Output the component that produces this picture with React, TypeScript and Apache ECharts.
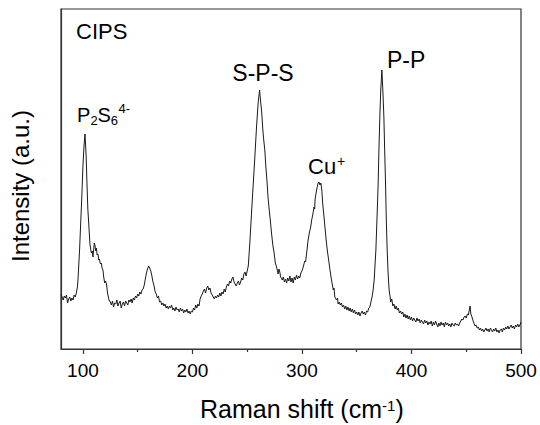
import React, { useEffect, useRef } from "react";
import * as echarts from "echarts";

// Raman shift (cm^-1) (10 per line, aligned with intensity)
const ramanShift = [
  80, 81, 82, 83, 84, 85, 86, 87, 88, 89,
  90, 91, 92, 93, 94, 95, 95.5, 97, 97.6, 99,
  100, 101, 101.9, 103, 103.7, 104.5, 105.5, 106.5, 107.7, 108.5,
  109.2, 110.4, 111, 111.7, 112.3, 113, 113.7, 114.5, 115, 116,
  116.8, 117.5, 118.3, 119, 119.9, 120.7, 121.5, 122.5, 123.8, 125,
  126, 127, 128, 129, 130, 131, 132, 133, 134, 135,
  136, 137, 138, 139, 140, 141, 142, 143, 144, 145,
  146, 147, 148, 149, 150, 151, 152, 153, 154, 155,
  156, 157, 158, 159, 160, 161, 162, 163, 164, 165,
  166, 167, 168, 169, 170, 171, 172, 173, 174, 175,
  176, 177, 178, 179, 180, 181, 182, 183, 184, 185,
  186, 187, 188, 189, 190, 191, 192, 193, 194, 195,
  196, 197, 198, 199, 200, 201, 202, 203, 204, 205,
  206, 207, 208, 209, 210, 211, 212, 213, 214, 215,
  216, 217, 218, 219, 220, 221, 222, 223, 224, 225,
  226, 227, 228, 229, 230, 231, 232, 233, 234, 235,
  236, 237, 238, 239, 240, 241, 242, 243, 244, 245,
  246, 247, 248, 249, 250, 251, 252.4, 254.5, 257, 258.5,
  260, 261.3, 262.4, 263.3, 264.3, 265.2, 266.1, 267, 268, 269,
  270.1, 271, 272.2, 273.4, 274.6, 275.7, 276.8, 277.5, 278.3, 279,
  279.8, 280.5, 281.3, 282, 283, 284, 285, 286, 287, 288,
  289, 290, 291, 292, 293, 294, 295, 296, 297, 298,
  299, 300, 301.2, 302.5, 303.3, 304.3, 305.5, 306.7, 308, 308.9,
  310, 311, 311.6, 312, 313.4, 314.5, 315.5, 316.5, 317.3, 318.2,
  318.9, 320, 321, 322, 323.1, 324.5, 325.6, 327, 328.6, 329.3,
  330, 331, 331.7, 332.5, 333, 334, 335, 336, 337, 338,
  339, 340, 341, 342, 343, 344, 345, 346, 347, 348,
  349, 350, 351, 352, 353, 354, 355, 356, 357, 358,
  359, 360, 361, 362, 363, 364, 365, 366, 367.5, 368.5,
  369.6, 370.3, 371.1, 372, 373, 374, 374.8, 375.5, 376.3, 377,
  377.8, 378.7, 379.6, 380.5, 381, 382, 383, 384, 385, 386,
  387, 388, 389, 390, 391, 392, 393, 394, 395, 396,
  397, 398, 399, 400, 401, 402, 403, 404, 405, 406,
  407, 408, 409, 410, 411, 412, 413, 414, 415, 416,
  417, 418, 419, 420, 421, 422, 423, 424, 425, 426,
  427, 428, 429, 430, 431, 432, 433, 434, 435, 436,
  437, 438, 439, 440, 441, 442, 443, 444, 445, 446,
  447, 448, 449, 450, 451, 452, 452.8, 453.5, 454.2, 455,
  456, 457, 458, 459, 460, 461, 462, 463, 464, 465,
  466, 467, 468, 469, 470, 471, 472, 473, 474, 475,
  476, 477, 478, 479, 480, 481, 482, 483, 484, 485,
  486, 487, 488, 489, 490, 491, 492, 493, 494, 495,
  496, 497, 498, 499, 500,
];

// Intensity (a.u.), same order as ramanShift
const intensity = [
  55, 52, 49, 53, 51, 54, 46, 50, 52, 48,
  51, 49, 54, 52, 56, 62, 69, 100, 116, 152,
  182, 203, 215, 192, 166, 140, 122, 104, 96, 98,
  92, 106, 104, 98, 101, 94, 95, 89, 90, 85,
  86, 81, 79, 72, 66, 68, 65, 56, 49, 47,
  44, 48, 42, 46, 45, 49, 43, 46, 48, 41,
  45, 47, 43, 48, 46, 44, 49, 47, 50, 46,
  51, 49, 53, 51, 55, 53, 57, 55, 59, 60,
  64, 70, 76, 80, 83, 81, 78, 73, 67, 63,
  57, 55, 51, 53, 47, 48, 44, 46, 43, 45,
  41, 43, 40, 43, 41, 44, 39, 41, 38, 42,
  39, 40, 37, 41, 38, 40, 36, 39, 37, 40,
  36, 38, 35, 38, 37, 41, 39, 44, 41, 45,
  43, 50, 53, 55, 58, 60, 56, 61, 63, 59,
  61, 56, 54, 52, 50, 53, 51, 54, 52, 56,
  53, 57, 55, 60, 57, 62, 65, 63, 68, 66,
  70, 72, 67, 65, 63, 66, 68, 64, 67, 71,
  69, 75, 77, 73, 78, 83, 106, 146, 192, 222,
  246, 259, 246, 236, 219, 208, 199, 183, 169, 152,
  139, 130, 116, 104, 96, 86, 82, 79, 75, 80,
  77, 72, 71, 69, 72, 67, 70, 66, 71, 68,
  73, 67, 71, 66, 72, 69, 74, 70, 73, 71,
  76, 78, 82, 88, 87, 96, 108, 116, 122, 129,
  135, 142, 140, 150, 159, 165, 167, 164, 166, 158,
  146, 134, 122, 110, 99, 88, 79, 69, 59, 61,
  52, 50, 49, 51, 45, 47, 44, 46, 42, 44,
  40, 43, 39, 42, 38, 41, 37, 40, 36, 39,
  35, 37, 34, 37, 33, 36, 38, 35, 37, 34,
  38, 37, 41, 42, 47, 52, 59, 70, 99, 130,
  166, 200, 232, 260, 279, 255, 232, 200, 166, 130,
  99, 75, 59, 52, 47, 50, 43, 45, 40, 43,
  39, 41, 36, 38, 35, 37, 32, 35, 31, 34,
  30, 33, 29, 32, 28, 31, 29, 27, 31, 28,
  30, 26, 29, 27, 25, 29, 26, 28, 24, 27,
  25, 28, 23, 27, 24, 28, 25, 22, 26, 23,
  27, 24, 26, 22, 27, 24, 26, 23, 25, 22,
  26, 24, 23, 26, 24, 25, 23, 26, 28, 30,
  29, 32, 33, 31, 35, 34, 39, 43, 35, 33,
  29, 26, 23, 24, 21, 22, 19, 21, 18, 20,
  17, 19, 21, 18, 20, 17, 21, 19, 17, 20,
  18, 21, 17, 19, 16, 19, 20, 17, 21, 19,
  22, 20, 23, 20, 22, 24, 21, 23, 20, 24,
  22, 25, 22, 24, 27,
];

const xTickValues = [100, 200, 300, 400, 500];
const xMinorTickValues = [150, 250, 350, 450];
const xRange = [80, 500];
const yRange = [0, 340];

const FONT = "'Liberation Sans', Arial, Helvetica, sans-serif";
const AXIS_COLOR = "#333333";

function label(text: string, x: number, y: number, size: number, align: string = "left") {
  return {
    type: "text",
    x,
    y,
    silent: true,
    style: {
      text,
      fontSize: size,
      fontFamily: FONT,
      fill: "#000000",
      textAlign: align,
      textVerticalAlign: "middle",
      align,
      verticalAlign: "middle",
    },
  };
}

export default function App() {
  const ref = useRef<HTMLDivElement>(null);

  useEffect(() => {
    if (!ref.current) return;
    const chart = echarts.init(ref.current, undefined, { renderer: "svg" });
    const n = Math.min(ramanShift.length, intensity.length);
    const data = ramanShift.slice(0, n).map((x, i) => [x, intensity[i]]);

    const yTitle = label("Intensity (a.u.)", 20, 186, 24, "center") as any;
    yTitle.rotation = Math.PI / 2;

    chart.setOption({
      animation: false,
      backgroundColor: "#ffffff",
      grid: {
        left: 61,
        right: 19,
        top: 9,
        bottom: 76,
        show: true,
        borderColor: AXIS_COLOR,
        borderWidth: 1.2,
        backgroundColor: "transparent",
      },
      xAxis: [
        {
          type: "value",
          min: xRange[0],
          max: xRange[1],
          axisLine: { show: true, onZero: false, lineStyle: { color: AXIS_COLOR, width: 1.2 } },
          axisTick: {
            show: true,
            inside: false,
            length: 5,
            customValues: xTickValues,
            lineStyle: { color: AXIS_COLOR, width: 1.2 },
          },
          axisLabel: {
            customValues: xTickValues,
            fontSize: 19,
            fontFamily: FONT,
            color: "#000000",
            margin: 12,
          },
          splitLine: { show: false },
        },
        {
          type: "value",
          min: xRange[0],
          max: xRange[1],
          position: "bottom",
          axisLine: { show: false, onZero: false },
          axisTick: {
            show: true,
            inside: false,
            length: 3,
            customValues: xMinorTickValues,
            lineStyle: { color: AXIS_COLOR, width: 1.2 },
          },
          axisLabel: { show: false },
          splitLine: { show: false },
        },
      ],
      yAxis: {
        type: "value",
        min: yRange[0],
        max: yRange[1],
        axisLine: { show: true, lineStyle: { color: AXIS_COLOR, width: 1.2 } },
        axisTick: { show: false },
        axisLabel: { show: false },
        splitLine: { show: false },
      },
      series: [
        {
          type: "line",
          xAxisIndex: 0,
          data,
          symbol: "none",
          showSymbol: false,
          lineStyle: { color: "#1a1a1a", width: 1 },
          silent: true,
        },
      ],
      graphic: [
        label("CIPS", 76, 31.5, 22),
        label("P", 77, 115, 20),
        label("2", 90.5, 120.5, 13),
        label("S", 97.5, 115, 20),
        label("6", 110.8, 120.5, 13),
        label("4-", 118.5, 108.5, 13),
        label("S-P-S", 263, 73, 23, "center"),
        label("Cu", 308, 166, 22),
        label("+", 337, 161, 14),
        label("P-P", 387, 60, 23),
        label("Raman shift (cm", 200, 409, 25),
        label("-1", 382, 405, 15),
        label(")", 395.5, 409, 25),
        yTitle,
      ],
    });

    return () => chart.dispose();
  }, []);

  return (
    <div
      ref={ref}
      style={{ position: "fixed", left: 0, top: 0, width: 540, height: 425, background: "#fff" }}
    />
  );
}
